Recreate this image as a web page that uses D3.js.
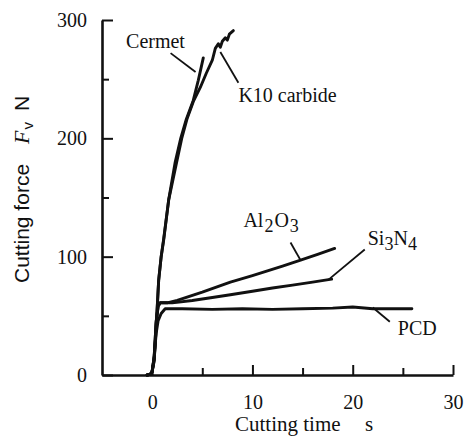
<!DOCTYPE html>
<html>
<head>
<meta charset="utf-8">
<script src="https://cdn.jsdelivr.net/npm/d3@7"></script>
<style>
body { margin: 0; background: #fff; }
svg text { fill: #111; }
</style>
</head>
<body>
<svg id="chart" width="469" height="438"></svg>
<script>
'use strict'

// cutting time (s) / cutting force Fv (N)
const cermet = [[-0.5,0],[-0.1,1],[0,3],[0.2,12],[0.4,40],[0.65,80],[0.9,100],[1.15,114],[1.65,148],[2.3,180],[2.85,200],[3.4,216],[4.1,232],[4.6,249],[5.1,268]]
const k10 = [[-0.5,0],[-0.1,1],[0,3],[0.2,12],[0.4,40],[0.65,80],[0.9,100],[1.15,115],[1.65,148],[2.45,180],[2.95,200],[3.5,217],[4.1,231],[4.8,243],[5.4,255],[6.0,266],[6.3,276],[6.6,280],[6.8,277],[7.0,282],[7.3,285],[7.5,283],[7.7,288],[8.1,291]]
const al2o3 = [[-0.5,0],[-0.1,1],[0,3],[0.2,15],[0.4,45],[0.6,58],[0.8,61],[1.5,61],[2.5,63],[5,70],[7.8,78.5],[10,84],[11.5,88],[13,92],[14.8,97],[16.5,102],[18.2,107]]
const si3n4 = [[-0.5,0],[-0.1,1],[0,3],[0.2,15],[0.4,45],[0.6,58],[0.8,61],[2,61],[4,63],[6,65.5],[7.8,67.8],[10,70.8],[12,73.5],[14,76],[16,78.5],[17.9,81]]
const pcd = [[-0.5,0],[-0.1,1],[0,3],[0.2,15],[0.4,35],[0.6,46],[0.9,52],[1.3,56],[3,56],[6,55.5],[9,56],[12,55.5],[15,56],[18,56.5],[20,57.5],[22,56],[24,56],[25.9,56]]

const xMajor = [0, 10, 20, 30]
const xMinor = [5, 15, 25]
const yMajor = [0, 100, 200, 300]
const yMinor = [50, 150, 250]

// leader lines: [t1, F1, t2, F2]
const leaders = [[1.84,272,4.33,256],[6.8,273,8.6,247],[13.8,112,14.8,97],[21.2,106,17.5,80],[22.0,57,23.7,45]]

const svg = d3.select('#chart')

const x = d3.scaleLinear().domain([-5, 30]).range([102, 453])
const y = d3.scaleLinear().domain([0, 300]).range([375, 20])

const serif = '"Liberation Serif", "Times New Roman", serif'
const sans = '"Liberation Sans", Arial, sans-serif'

// axes
const gx = svg.append('g')
	.attr('transform', 'translate(0,' + y(0) + ')')
	.call(d3.axisBottom(x).tickValues(xMajor).tickSize(-10).tickSizeOuter(0).tickPadding(20).tickFormat(d3.format('d')))
gx.append('g')
	.call(d3.axisBottom(x).tickValues(xMinor).tickSize(-7).tickSizeOuter(0).tickFormat(''))
	.select('.domain').remove()

const gy = svg.append('g')
	.attr('transform', 'translate(' + x(-5) + ',0)')
	.call(d3.axisLeft(y).tickValues(yMajor).tickSize(-11).tickSizeOuter(0).tickPadding(15).tickFormat(d3.format('d')))
gy.append('g')
	.call(d3.axisLeft(y).tickValues(yMinor).tickSize(-7).tickSizeOuter(0).tickFormat(''))
	.select('.domain').remove()

svg.selectAll('.domain').attr('stroke', '#111').attr('stroke-width', 2.6)
svg.selectAll('.tick line').attr('stroke', '#111').attr('stroke-width', 2)
svg.selectAll('g').attr('font-family', null)
svg.selectAll('.tick text')
	.attr('font-family', serif)
	.attr('font-size', 20)
	.attr('fill', '#111')

// curves
const line = d3.line().x(d => x(d[0])).y(d => y(d[1]))
svg.append('g')
	.selectAll('path')
	.data([pcd, si3n4, al2o3, cermet, k10])
	.enter().append('path')
	.attr('d', line)
	.attr('fill', 'none')
	.attr('stroke', '#111')
	.attr('stroke-width', 2.9)
	.attr('stroke-linejoin', 'round')
	.attr('stroke-linecap', 'round')

svg.append('g')
	.selectAll('line')
	.data(leaders)
	.enter().append('line')
	.attr('x1', d => x(d[0])).attr('y1', d => y(d[1]))
	.attr('x2', d => x(d[2])).attr('y2', d => y(d[3]))
	.attr('stroke', '#111')
	.attr('stroke-width', 1.8)

// labels
function label(t, f) {
	return svg.append('text')
		.attr('x', x(t)).attr('y', y(f))
		.attr('font-family', serif)
		.attr('font-size', 20)
}

label(-2.6, 276).text('Cermet')
label(8.6, 231).text('K10 carbide')
label(24.5, 34).text('PCD')

const al = label(9.1, 125)
al.append('tspan').text('Al')
al.append('tspan').attr('dy', 5).attr('dx', 1).attr('font-size', 18).text('2')
al.append('tspan').attr('dy', -5).attr('dx', 1).text('O')
al.append('tspan').attr('dy', 5).attr('dx', 1).attr('font-size', 18).text('3')

const si = label(21.5, 110)
si.append('tspan').text('Si')
si.append('tspan').attr('dy', 5).attr('font-size', 18).text('3')
si.append('tspan').attr('dy', -5).text('N')
si.append('tspan').attr('dy', 5).attr('font-size', 18).text('4')

// axis titles
const yl = svg.append('text')
	.attr('transform', 'translate(29,283) rotate(-90)')
	.attr('font-family', sans)
	.attr('font-size', 21)
yl.append('tspan').text('Cutting force')
yl.append('tspan').attr('dx', 20).attr('font-style', 'italic').attr('font-family', serif).attr('font-size', 22).text('F')
yl.append('tspan').attr('dy', 4).attr('dx', 1).attr('font-size', 15).text('v')
yl.append('tspan').attr('dy', -4).attr('dx', 11).text('N')

const xl = svg.append('text')
	.attr('y', 431)
	.attr('font-family', serif)
	.attr('font-size', 21)
xl.append('tspan').attr('x', 235).text('Cutting time')
xl.append('tspan').attr('x', 365).text('s')
</script>
</body>
</html>
